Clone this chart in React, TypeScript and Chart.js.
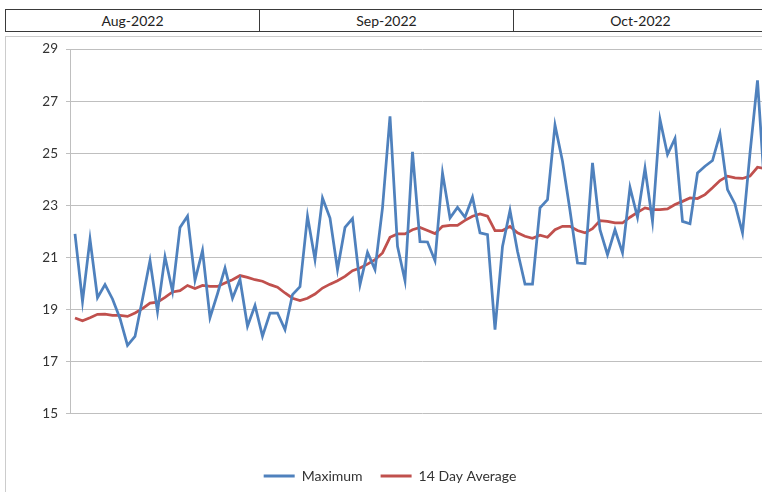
import React, { useEffect, useRef } from "react";
import { Chart, registerables } from "chart.js";

Chart.register(...registerables);

const months = ["Aug-2022", "Sep-2022", "Oct-2022"];

const maximum = [
  21.9, 19.3, 21.7, 19.45, 19.95, 19.4, 18.65, 17.62, 17.96, 19.4,
  20.87, 18.92, 21.02, 19.69, 22.15, 22.58, 20.12, 21.26, 18.68, 19.6,
  20.59, 19.43, 20.15, 18.35, 19.15, 17.97, 18.86, 18.86, 18.22, 19.57,
  19.87, 22.58, 20.91, 23.28, 22.51, 20.53, 22.15, 22.49, 19.95, 21.19,
  20.53, 22.9, 26.42, 21.42, 20.1, 25.05, 21.6, 21.59, 20.87, 24.24,
  22.51, 22.92, 22.54, 23.31, 21.94, 21.87, 18.22, 21.42, 22.8, 21.23,
  19.97, 19.97, 22.9, 23.22, 26.08, 24.69, 22.8, 20.78, 20.76, 24.63,
  22.06, 21.1, 22.06, 21.17, 23.69, 22.54, 24.42, 22.38, 26.3, 24.95,
  25.57, 22.38, 22.29, 24.24, 24.5, 24.72, 25.74, 23.6, 23.05, 21.94,
  25.0, 27.8, 23.4,
];

const average14 = [
  18.67, 18.56, 18.68, 18.81, 18.82, 18.77, 18.77, 18.73, 18.86, 19.03,
  19.24, 19.28, 19.46, 19.67, 19.72, 19.92, 19.8, 19.92, 19.88, 19.88,
  20.01, 20.14, 20.3, 20.23, 20.14, 20.08, 19.95, 19.85, 19.63, 19.43,
  19.34, 19.43, 19.59, 19.82, 19.97, 20.1, 20.27, 20.49, 20.59, 20.74,
  20.91, 21.17, 21.77, 21.9, 21.9, 22.06, 22.15, 22.03, 21.91, 22.19,
  22.23, 22.23, 22.42, 22.58, 22.67, 22.58, 22.03, 22.03, 22.19, 21.94,
  21.81, 21.73, 21.85, 21.77, 22.06, 22.19, 22.19, 22.03, 21.94, 22.1,
  22.41, 22.38, 22.32, 22.32, 22.54, 22.73, 22.9, 22.83, 22.83, 22.86,
  23.03, 23.15, 23.28, 23.26, 23.41, 23.67, 23.95, 24.12, 24.05, 24.03,
  24.12, 24.46, 24.41,
];

const seriesNames = ["Maximum", "14 Day Average"];
const seriesColors = ["#4F81BD", "#C0504D"];
const yMin = 15;
const yMax = 29;
const yStep = 2;

export default function App() {
  const ref = useRef<HTMLCanvasElement>(null);

  useEffect(() => {
    const canvas = ref.current;
    if (!canvas) return;
    const chart = new Chart(canvas, {
      type: "line",
      data: {
        datasets: [maximum, average14].map((arr, k) => ({
          label: seriesNames[k],
          data: arr.map((v, i) => ({ x: i, y: v })),
          borderColor: seriesColors[k],
          backgroundColor: seriesColors[k],
          borderWidth: 2.75,
          pointRadius: 0,
          tension: 0,
          fill: false,
        })),
      },
      options: {
        responsive: false,
        animation: false,
        layout: { padding: { top: 2, left: 0, right: 0, bottom: 0 } },
        scales: {
          x: {
            type: "linear",
            min: -0.667,
            max: 93.2,
            grid: { display: false },
            border: { display: false },
            ticks: { display: false },
            afterFit: (s: any) => {
              s.height = 37.5;
            },
          },
          y: {
            min: yMin,
            max: yMax,
            ticks: {
              stepSize: yStep,
              padding: 8,
              color: "#333333",
              font: { family: "Lato", size: 13.5 },
            },
            grid: { color: "#bfbfbf", tickLength: 4, lineWidth: 1 },
            border: { color: "#bfbfbf" },
            afterFit: (s: any) => {
              s.width = 64;
            },
          },
        },
        plugins: {
          tooltip: { enabled: false },
          legend: {
            position: "bottom",
            labels: {
              boxWidth: 31,
              boxHeight: 3,
              padding: 18,
              color: "#333333",
              font: { family: "Lato", size: 14 },
              generateLabels: (c: any) =>
                Chart.defaults.plugins.legend.labels
                  .generateLabels(c)
                  .map((l: any) => ({ ...l, lineWidth: 0, fillStyle: l.strokeStyle })),
            },
          },
        },
      },
    });
    return () => chart.destroy();
  }, []);

  return (
    <div
      style={{
        position: "fixed",
        left: 0,
        top: 0,
        width: 762,
        height: 492,
        overflow: "hidden",
        background: "#fff",
        fontFamily: "Lato, sans-serif",
      }}
    >
      {months.map((m, i) => (
        <div
          key={m}
          style={{
            position: "absolute",
            left: 5 + i * 254,
            top: 9,
            width: 255,
            height: 23,
            boxSizing: "border-box",
            border: "1px solid #3a3a3a",
            textAlign: "center",
            lineHeight: "21px",
            fontSize: 14,
            color: "#222",
          }}
        >
          {m}
        </div>
      ))}
      <div
        style={{
          position: "absolute",
          left: 5,
          top: 36,
          width: 820,
          height: 520,
          boxSizing: "border-box",
          border: "1px solid #cccccc",
        }}
      />
      <canvas
        ref={ref}
        width={768}
        height={460}
        style={{ position: "absolute", left: 6, top: 33, width: 768, height: 460, display: "block" }}
      />
    </div>
  );
}
